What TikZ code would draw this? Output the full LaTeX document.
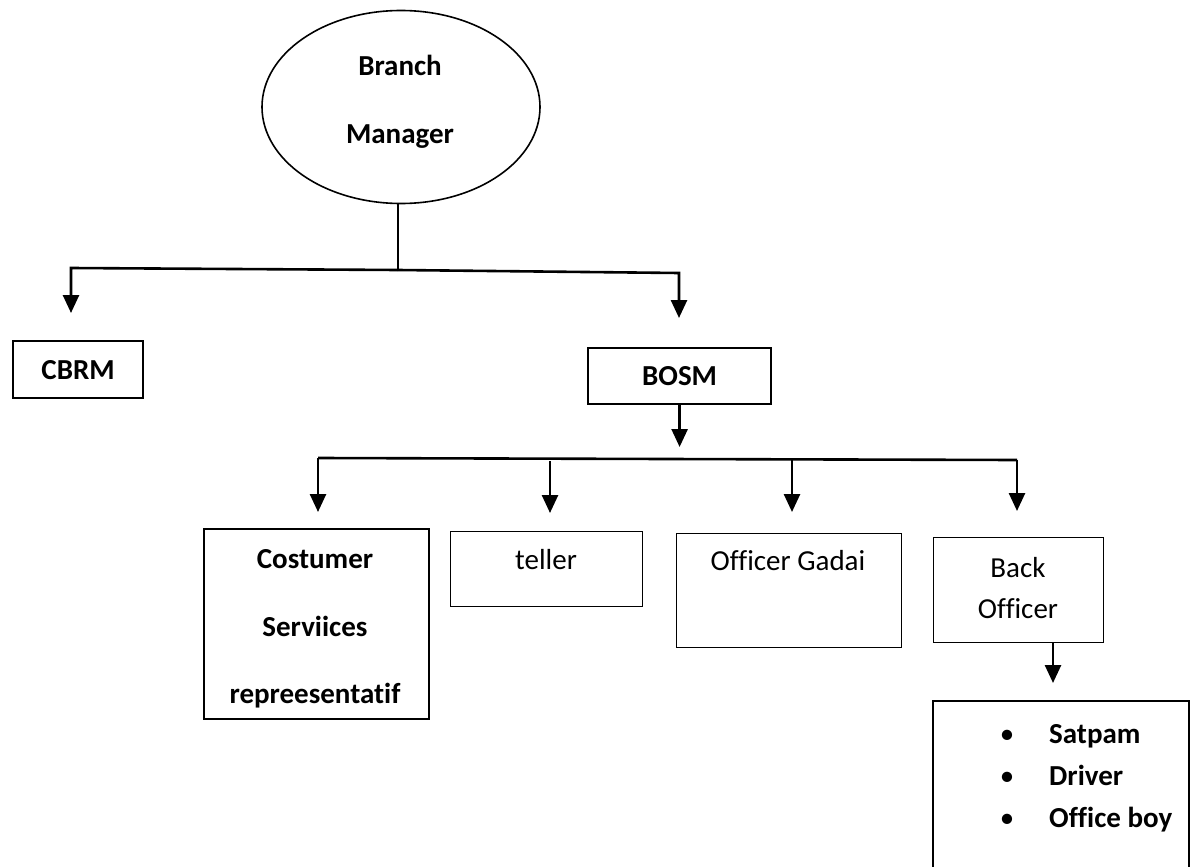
\documentclass[tikz,border=0pt]{standalone}
\usepackage{fontspec}
\setmainfont{Carlito}[Ligatures={NoCommon}]
\usetikzlibrary{arrows.meta,shapes.geometric}
\newcommand\myfs{\fontsize{29}{35}\selectfont}
\begin{document}
\begin{tikzpicture}[x=1pt,y=-1pt,
  every node/.style={font=\myfs},
  thickbox/.style={draw, line width=2.2pt, inner sep=0pt, anchor=north west},
  thinbox/.style={draw, line width=1.2pt, inner sep=0pt, anchor=north west},
  txt/.style={inner sep=0pt, anchor=base},
  btxt/.style={inner sep=0pt, anchor=base, font=\myfs\bfseries},
  ln/.style={line width=2.6pt},
  arr/.style={line width=2.6pt, -{Triangle[length=18pt,width=16pt]}}]
\clip (0,0) rectangle (1197,867);
\fill[white] (0,0) rectangle (1197,867);

% top node
\node[draw, ellipse, line width=1.6pt, inner sep=0pt, minimum width=278pt, minimum height=193pt] (bm) at (401,107) {};
\node[btxt] (bm1) at (400,75) {Branch};
\node[btxt] (bm2) at (400,143) {Manager};

% first level boxes
\node[thickbox, minimum width=130pt, minimum height=57pt, font=\myfs\bfseries] (cbrm) at (12,340) {CBRM};
\node[thickbox, minimum width=183pt, minimum height=56pt, font=\myfs\bfseries] (bosm) at (587,347) {BOSM};

% second level boxes
\node[thickbox, minimum width=225pt, minimum height=190pt] (cs) at (203,528) {};
\node[btxt] (cs1) at (315,568) {Costumer};
\node[btxt] (cs2) at (315,636) {Serviices};
\node[btxt] (cs3) at (315,703) {repreesentatif};

\node[thinbox, minimum width=192pt, minimum height=75pt] (tel) at (450,531) {};
\node[txt] (tel1) at (546,569) {teller};

\node[thinbox, minimum width=225pt, minimum height=114pt] (og) at (676,533) {};
\node[txt] (og1) at (788,570) {Officer Gadai};

\node[thinbox, minimum width=170pt, minimum height=105pt] (bo) at (933,537) {};
\node[txt] (bo1) at (1018,577) {Back};
\node[txt] (bo2) at (1018,618) {Officer};

% staff box
\node[thickbox, minimum width=256pt, minimum height=200pt] (staff) at (932,700) {};
\node[txt] (s1b) at (1007,743) {\textbullet};
\node[txt] (s2b) at (1007,785) {\textbullet};
\node[txt] (s3b) at (1007,827) {\textbullet};
\node[btxt, anchor=base west] (s1) at (1049,743) {Satpam};
\node[btxt, anchor=base west] (s2) at (1049,785) {Driver};
\node[btxt, anchor=base west] (s3) at (1049,827) {Office boy};

% connectors, first level
\coordinate (j1) at (398,270);
\coordinate (aL) at (71,268);
\coordinate (aR) at (679,273);
\draw[line width=1.8pt] (bm.south -| j1) -- (j1);
\draw[arr, shorten >=27pt] (j1) -- (aL) -- (aL |- cbrm.north);
\draw[arr, shorten >=29pt] (j1) -- (aR) -- (aR |- bosm.north);

% BOSM down
\coordinate (b2) at (678,447);
\draw[arr] (bosm.south) -- (bosm.south |- b2);

% second level
\coordinate (hL) at (318,458);
\coordinate (hR) at (1017,460);
\coordinate (tA) at (550,461);
\coordinate (oA) at (792,459);
\draw[ln] (hL) -- (hR);
\draw[arr, shorten >=16pt] (hL) -- (hL |- cs.north);
\draw[arr, shorten >=18pt] (tA) -- (tA |- tel.north);
\draw[arr, shorten >=21pt] (oA) -- (oA |- og.north);
\draw[arr, shorten >=26pt] (hR) -- (hR |- bo.north);

% back officer down
\coordinate (bA) at (1053,642);
\draw[arr, shorten >=17pt] (bA |- bo.south) -- (bA |- staff.north);
\end{tikzpicture}
\end{document}
